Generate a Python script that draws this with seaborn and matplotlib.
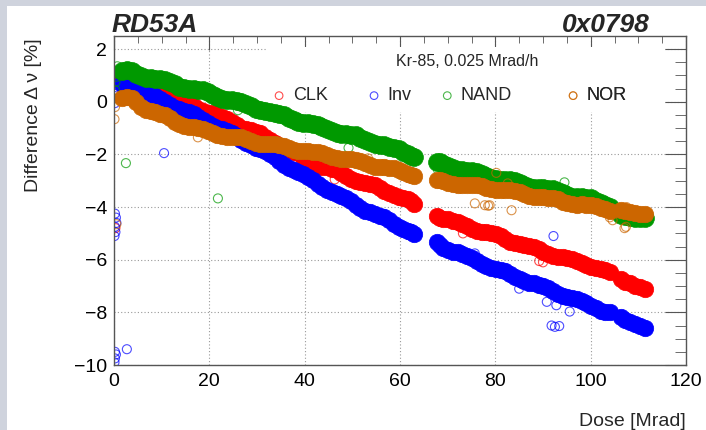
import matplotlib
matplotlib.use('Agg')
import matplotlib.pyplot as plt
import seaborn as sns
from matplotlib.patches import Rectangle
from matplotlib.ticker import MultipleLocator

sns.set_style('white')
plt.rcParams['font.family'] = ['Liberation Sans', 'DejaVu Sans']

# dose points of the dense bands [Mrad]
dose = [1.7, 2.7, 3.7, 4.7, 5.7, 6.7, 7.7, 8.7, 9.7, 10.7, 11.7, 12.7, 13.7, 14.7, 15.7,
        16.7, 17.7, 18.7, 19.7, 20.7, 21.7, 22.7, 23.7, 24.7, 25.7, 26.7, 27.7, 28.7, 29.7,
        30.7, 31.7, 32.7, 33.7, 34.7, 35.7, 36.7, 37.7, 38.7, 39.7, 40.7, 41.7, 42.7, 43.7,
        44.7, 45.7, 46.7, 47.7, 48.7, 49.7, 50.7, 51.7, 52.7, 53.7, 54.7, 55.7, 56.7, 57.7,
        58.7, 59.7, 60.7, 61.7, 62.4, 63.0,
        67.7, 68.3, 69.1, 70.1, 71.1, 72.1, 73.1, 74.1, 75.1, 76.1, 77.1, 78.1, 79.1, 80.1,
        81.1, 82.1, 83.1, 84.1, 85.1, 86.1, 87.1, 88.1, 89.1, 90.1, 91.1, 92.1, 93.1, 94.1,
        95.1, 96.1, 97.1, 98.1, 99.1, 100.1, 101.1, 102.1, 103.1, 104.1,
        106.3, 107.3, 108.3, 109.3, 110.3, 111.3]

# difference [%] per gate type
clk = [0.88, 0.85, 0.85, 0.81, 0.74, 0.68, 0.58, 0.46,
       0.34, 0.25, 0.20, 0.16, 0.11, 0.05, -0.05, -0.16,
       -0.27, -0.35, -0.41, -0.44, -0.50, -0.56, -0.66, -0.78,
       -0.89, -0.98, -1.04, -1.08, -1.14, -1.20, -1.32, -1.45,
       -1.58, -1.68, -1.76, -1.81, -1.89, -1.96, -2.08, -2.21,
       -2.32, -2.40, -2.46, -2.49, -2.55, -2.60, -2.70, -2.81,
       -2.92, -3.00, -3.05, -3.08, -3.13, -3.18, -3.27, -3.38,
       -3.48, -3.56, -3.61, -3.64, -3.71, -3.78, -3.89,
       -4.34, -4.41, -4.45, -4.47, -4.51, -4.55, -4.63, -4.73,
       -4.82, -4.89, -4.93, -4.95, -4.99, -5.03, -5.11, -5.21,
       -5.31, -5.38, -5.42, -5.44, -5.48, -5.53, -5.61, -5.71,
       -5.79, -5.85, -5.89, -5.90, -5.93, -5.96, -6.03, -6.13,
       -6.21, -6.27, -6.32, -6.35, -6.40, -6.45,
       -6.75, -6.85, -6.90, -6.98, -7.05, -7.12]

inv = [0.68, 0.69, 0.57, 0.48, 0.41, 0.36, 0.30, 0.23,
       0.12, -0.01, -0.12, -0.22, -0.29, -0.34, -0.40, -0.47,
       -0.58, -0.71, -0.82, -0.92, -0.99, -1.04, -1.12, -1.19,
       -1.30, -1.44, -1.56, -1.66, -1.74, -1.79, -1.88, -1.97,
       -2.10, -2.25, -2.39, -2.51, -2.60, -2.67, -2.76, -2.85,
       -2.97, -3.11, -3.24, -3.35, -3.43, -3.49, -3.57, -3.65,
       -3.77, -3.91, -4.03, -4.13, -4.20, -4.25, -4.32, -4.39,
       -4.50, -4.63, -4.75, -4.85, -4.91, -4.96, -5.02,
       -5.32, -5.44, -5.54, -5.63, -5.69, -5.72, -5.78, -5.84,
       -5.94, -6.05, -6.16, -6.25, -6.30, -6.34, -6.39, -6.44,
       -6.53, -6.64, -6.74, -6.82, -6.87, -6.90, -6.95, -7.00,
       -7.09, -7.20, -7.30, -7.38, -7.43, -7.46, -7.51, -7.56,
       -7.65, -7.76, -7.85, -7.93, -7.97, -7.99,
       -8.18, -8.30, -8.38, -8.45, -8.52, -8.58]

nand = [1.18, 1.21, 1.18, 1.07, 0.98, 0.92, 0.89, 0.88,
        0.85, 0.82, 0.75, 0.66, 0.58, 0.52, 0.50, 0.49,
        0.46, 0.43, 0.36, 0.27, 0.18, 0.12, 0.08, 0.07,
        0.03, 0.00, -0.08, -0.17, -0.26, -0.32, -0.36, -0.37,
        -0.41, -0.45, -0.52, -0.62, -0.70, -0.77, -0.80, -0.82,
        -0.85, -0.88, -0.95, -1.04, -1.12, -1.18, -1.21, -1.22,
        -1.25, -1.28, -1.36, -1.45, -1.54, -1.61, -1.65, -1.66,
        -1.70, -1.74, -1.81, -1.91, -1.99, -2.05, -2.08,
        -2.27, -2.30, -2.36, -2.45, -2.53, -2.58, -2.61, -2.62,
        -2.64, -2.67, -2.74, -2.82, -2.90, -2.95, -2.97, -2.97,
        -2.99, -3.01, -3.07, -3.15, -3.22, -3.27, -3.29, -3.29,
        -3.31, -3.33, -3.40, -3.48, -3.55, -3.60, -3.62, -3.63,
        -3.65, -3.67, -3.75, -3.85, -3.93, -4.00,
        -4.30, -4.33, -4.36, -4.40, -4.42, -4.42]

nor = [0.15, 0.18, 0.15, -0.02, -0.19, -0.30, -0.36, -0.40,
       -0.46, -0.52, -0.63, -0.75, -0.85, -0.91, -0.94, -0.96,
       -0.99, -1.02, -1.10, -1.19, -1.26, -1.30, -1.32, -1.32,
       -1.34, -1.35, -1.41, -1.49, -1.55, -1.60, -1.61, -1.61,
       -1.62, -1.63, -1.69, -1.76, -1.82, -1.86, -1.88, -1.87,
       -1.89, -1.90, -1.96, -2.04, -2.11, -2.15, -2.17, -2.17,
       -2.18, -2.20, -2.26, -2.34, -2.41, -2.46, -2.48, -2.48,
       -2.50, -2.52, -2.58, -2.66, -2.73, -2.79, -2.81,
       -2.97, -2.97, -3.02, -3.08, -3.13, -3.17, -3.17, -3.15,
       -3.15, -3.16, -3.20, -3.26, -3.32, -3.35, -3.36, -3.36,
       -3.37, -3.38, -3.44, -3.51, -3.57, -3.62, -3.63, -3.62,
       -3.64, -3.66, -3.71, -3.79, -3.85, -3.89, -3.91, -3.90,
       -3.92, -3.93, -3.97, -4.04, -4.09, -4.13,
       -4.12, -4.16, -4.18, -4.24, -4.26, -4.28]

# scattered single readings
clk_out_x = [0.3, 0.6, 1.0, 0.3, 41.7, 46.3, 73.2, 89.2, 90.0]
clk_out_y = [0.45, 0.75, 1.0, -4.8, -2.6, -2.95, -5.0, -6.05, -6.1]
inv_out_x = [0.2, 0.3, 0.6, 1.3, 10.5, 0.2, 0.4, 0.5, 0.2, 0.3, 0.1, 0.2, 0.4, 0.1, 0.2,
             2.7, 75.7, 92.2, 85.0, 90.8, 92.8, 95.6, 91.8, 92.5, 93.4]
inv_out_y = [-0.05, 0.3, 0.55, 0.85, -1.95, -4.25, -4.4, -4.6, -4.75, -4.95, -5.1, -9.5,
             -9.6, -9.9, -9.75, -9.4, -5.76, -5.1, -7.1, -7.6, -7.73, -7.97, -8.5, -8.55, -8.52]
nand_out_x = [0.2, 0.3, 0.5, 0.2, 0.7, 2.5, 21.8, 26.0, 49.2, 68.0, 94.5, 110.9]
nand_out_y = [0.45, 0.75, 0.95, 1.15, 1.35, -2.33, -3.67, -0.32, -1.75, -2.6, -3.06, -4.57]
nor_out_x = [0.1, 0.2, 0.5, 17.6, 53.3, 75.7, 77.8, 78.5, 80.2, 82.6, 78.8, 83.4,
             104.0, 104.6, 107.1, 107.4, 107.5]
nor_out_y = [-0.66, -0.2, -4.65, -1.35, -2.15, -3.86, -3.93, -3.95, -2.7, -3.1, -3.93, -4.12,
             -4.39, -4.5, -4.8, -4.75, -4.0]

series = [
    ('CLK', clk, clk_out_x, clk_out_y, '#ff0000', 140),
    ('Inv', inv, inv_out_x, inv_out_y, '#0000ff', 140),
    ('NAND', nand, nand_out_x, nand_out_y, '#009900', 165),
    ('NOR', nor, nor_out_x, nor_out_y, '#cc6600', 140),
]

fig = plt.figure(figsize=(7.06, 4.30), dpi=100)
fig.patch.set_facecolor('#cfd3dd')
fig.add_artist(Rectangle((7 / 706, 0), 1, 424 / 430, transform=fig.transFigure,
                         fc='white', ec='none', zorder=-1))
ax = fig.add_axes([114 / 706, 65 / 430, 572 / 706, 329 / 430])
ax.set_facecolor('white')

# white legend box hides the grid underneath
ax.add_patch(Rectangle((32, -0.4), 83.5, 2.5, fc='white', ec='none', zorder=1))

handles = {}
for name, vals, ox, oy, col, size in series:
    sns.scatterplot(x=dose, y=vals, ax=ax, color=col, edgecolor=col, s=size,
                    linewidth=0.5, marker='o', zorder=2)
    sns.scatterplot(x=ox, y=oy, ax=ax, facecolor='none', edgecolor=col, s=42,
                    linewidth=0.8, alpha=0.7, marker='o', zorder=2)
    handles[name] = ax.collections[-1]

ax.set_xlim(0, 120)
ax.set_ylim(-10, 2.5)
ax.xaxis.set_major_locator(MultipleLocator(20))
ax.xaxis.set_minor_locator(MultipleLocator(5))
ax.yaxis.set_major_locator(MultipleLocator(2))
ax.yaxis.set_minor_locator(MultipleLocator(0.5))
ax.set_axisbelow(True)
ax.grid(True, which='major', linestyle=(0, (1, 2)), color='#999999', lw=0.8)

for sp in ax.spines.values():
    sp.set_color('#555555')
    sp.set_linewidth(1)
ax.tick_params(which='both', direction='in', top=True, right=True, color='#555555',
               labelsize=14, labelcolor='black')
ax.tick_params(axis='x', which='major', length=10, pad=5.5)
ax.tick_params(axis='x', which='minor', length=5)
ax.tick_params(axis='y', which='major', length=15, pad=5)
ax.tick_params(axis='y', which='minor', length=8)

ax.set_xlabel('Dose [Mrad]', fontsize=14, loc='right')
ax.xaxis.set_label_coords(1.0, -0.185)
ax.xaxis.label.set_va('baseline')
ax.set_ylabel('Difference \u0394 \u03bd [%]', fontsize=14, loc='top')
ax.yaxis.set_label_coords(-0.14, 0.994)
ax.yaxis.label.set_va('center')

fig.text(112 / 706, 1 - 32 / 430, 'RD53A', fontsize=19, fontweight='bold',
         fontstyle='italic', ha='left', va='baseline')
fig.text(650 / 706, 1 - 32 / 430, '0x0798', fontsize=19, fontweight='bold',
         fontstyle='italic', ha='right', va='baseline')

ax.text(0.617, 0.924, 'Kr-85, 0.025 Mrad/h', transform=ax.transAxes,
        ha='center', va='center', fontsize=11.5, zorder=3)
for name, xa in [('CLK', 0.276), ('Inv', 0.442), ('NAND', 0.570), ('NOR', 0.790)]:
    leg = ax.legend([handles[name]], [name], loc='center left', bbox_to_anchor=(xa, 0.818),
                    frameon=False, fontsize=13, handlelength=0.8, handletextpad=0.35,
                    borderpad=0, borderaxespad=0, markerscale=0.85)
    ax.add_artist(leg)

fig.savefig('out.png', dpi=100)
